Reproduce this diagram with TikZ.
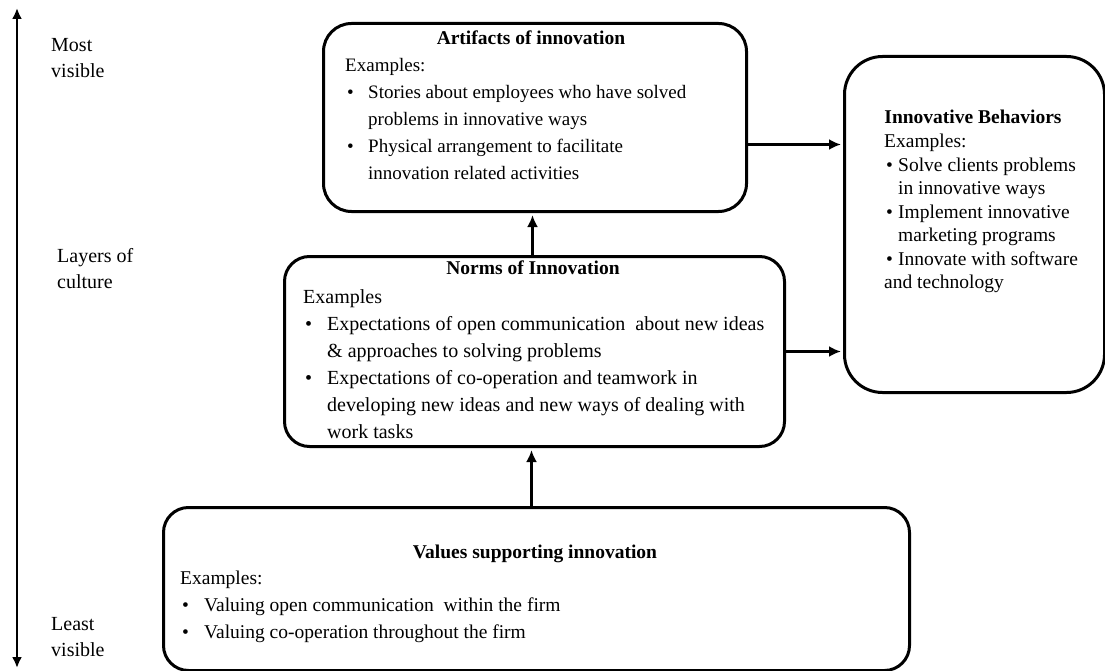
\documentclass[tikz,border=0pt]{standalone}
\usepackage{fontspec}
\setmainfont{Liberation Serif}
\usetikzlibrary{arrows.meta}
\begin{document}
% bullet line and its hanging continuation
\newcommand{\bl}[2]{\makebox[#1][l]{\hspace{2pt}\textbullet}#2}
\newcommand{\ct}[2]{\hspace*{#1}#2}
\tikzset{
  box/.style={draw, line width=3pt, rounded corners=#1, anchor=north west, inner sep=0pt},
  ttl/.style={anchor=base, inner sep=0pt, font=\fontsize{19.5}{27}\selectfont\bfseries},
  body/.style={anchor=base west, inner sep=0pt, font=\fontsize{19.5}{27}\selectfont},
  side/.style={anchor=base west, inner sep=0pt, font=\fontsize{20}{26}\selectfont},
  arr/.style={line width=3pt, -{Latex[length=12pt,width=11pt]}, shorten >=2pt},
}
\begin{tikzpicture}[x=1pt,y=-1pt]
\useasboundingbox (0,0) rectangle (1105,671);

% visibility axis
\coordinate (vtop) at (17,8);
\coordinate (vbot) at (17,668);
\draw[line width=2.6pt, {Latex[length=11pt,width=10pt]}-{Latex[length=11pt,width=10pt]}] (vtop) -- (vbot);
\node[side] (most) at (51,52) {\parbox[t]{90pt}{Most\\visible}};
\node[side] (layers) at (57,262) {\parbox[t]{100pt}{Layers of\\culture}};
\node[side] (least) at (51,630) {\parbox[t]{90pt}{Least\\visible}};

% layer boxes
\node[box=28pt, minimum width=423pt, minimum height=188pt] (art) at (322,22) {};
\node[box=25pt, minimum width=500pt, minimum height=190pt] (norm) at (283,255) {};
\node[box=38pt, minimum width=260pt, minimum height=336pt] (beh) at (843,55) {};
\node[box=25pt, minimum width=746pt, minimum height=163pt] (val) at (162,506) {};

% artifacts
\node[ttl] (artt) at (531,45) {Artifacts of innovation};
\node[body, font=\fontsize{19}{27}\selectfont] (artb) at (345,72) {\parbox[t]{400pt}{\raggedright
Examples:\\
\bl{23pt}{Stories about employees who have solved}\\
\ct{23pt}{problems in innovative ways}\\
\bl{23pt}{Physical arrangement to facilitate}\\
\ct{23pt}{innovation related activities}}};

% norms
\node[ttl] (normt) at (533,274) {Norms of Innovation};
\node[body, font=\fontsize{20}{27}\selectfont] (normb) at (303,303) {\parbox[t]{480pt}{\raggedright
Examples\\
\bl{24pt}{Expectations of open communication \ about new ideas}\\
\ct{24pt}{\& approaches to solving problems}\\
\bl{24pt}{Expectations of co-operation and teamwork in}\\
\ct{24pt}{developing new ideas and new ways of dealing with}\\
\ct{24pt}{work tasks}}};

% behaviors
\node[ttl] (beht) at (973,124) {Innovative Behaviors};
\node[body, font=\fontsize{19.5}{23.5}\selectfont] (behb) at (884,148) {\parbox[t]{215pt}{\raggedright
Examples:\\
\bl{14pt}{Solve clients problems}\\
\ct{14pt}{in innovative ways}\\
\bl{14pt}{Implement innovative}\\
\ct{14pt}{marketing programs}\\
\bl{14pt}{Innovate with software}\\
and technology}};

% values
\node[ttl] (valt) at (535,558) {Values supporting innovation};
\node[body] (valb) at (180,584) {\parbox[t]{700pt}{\raggedright
Examples:\\
\bl{24pt}{Valuing open communication \ within the firm}\\
\bl{24pt}{Valuing co-operation throughout the firm}}};

% connectors
\coordinate (a1) at ([yshift=-27pt]art.east);
\draw[arr] (a1) -- (a1 -| beh.west);
\draw[arr] (norm.east) -- (norm.east -| beh.west);
\coordinate (n1) at ([xshift=-2pt]norm.north);
\draw[arr] (n1) -- (n1 |- art.south);
\coordinate (v1) at ([xshift=-5pt]val.north);
\draw[arr] (v1) -- (v1 |- norm.south);
\end{tikzpicture}
\end{document}
